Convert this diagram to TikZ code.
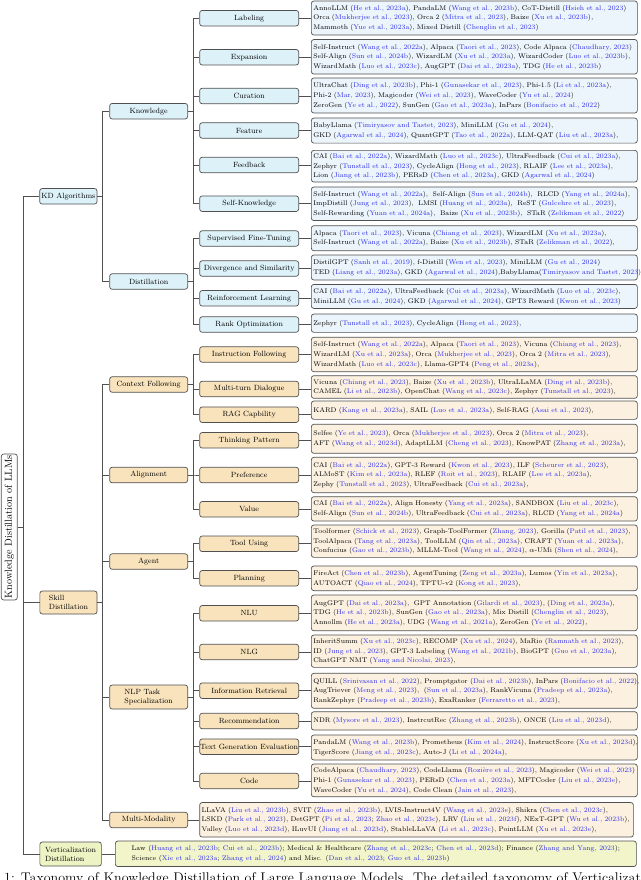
\documentclass[tikz,border=0pt]{standalone}
\usepackage{fontspec}
\usepackage{graphicx}
\definecolor{bordc}{RGB}{80,80,80}
\definecolor{citec}{RGB}{45,45,235}
\definecolor{kfill}{RGB}{221,241,249}
\definecolor{kleaf}{RGB}{236,245,251}
\definecolor{sfill}{RGB}{248,227,188}
\definecolor{sleaf}{RGB}{252,241,224}
\definecolor{vfill}{RGB}{238,243,196}
\definecolor{vleaf}{RGB}{242,245,202}
\newcommand\rf[1]{\textcolor{citec}{#1}}
\newcommand\leaffont{\fontsize{6.8}{9.7}\selectfont}
\newcommand\nodefont{\fontsize{7.55}{9}\selectfont}
\newcommand\lns[1]{\begin{tabular}{@{}l@{}}#1\end{tabular}}
\tikzset{
  box/.style={draw=bordc, line width=0.7pt, rounded corners=2.5pt, inner sep=0pt, align=center, font=\nodefont},
  conn/.style={draw=bordc, line width=0.7pt},
  rootbox/.style={box, fill=white, minimum width=16pt, minimum height=146pt},
  lonek/.style={box, fill=kfill, anchor=west, minimum width=57.4pt, minimum height=15.5pt},
  lones/.style={box, fill=sfill, anchor=west, minimum width=57.2pt, minimum height=23pt, align=left},
  lonev/.style={box, fill=vfill, anchor=west, minimum width=61.5pt, minimum height=24pt, align=left},
  ltwok/.style={box, fill=kfill, anchor=west, minimum width=78pt, minimum height=15.5pt},
  ltwos/.style={box, fill=sfill, anchor=west, minimum width=78pt, minimum height=15.5pt},
  lthreek/.style={box, fill=kfill, anchor=west, minimum width=99pt, minimum height=15.5pt},
  lthrees/.style={box, fill=sfill, anchor=west, minimum width=99pt, minimum height=15.5pt},
  leafk/.style={box, fill=kleaf, anchor=west, text width=322pt, inner xsep=2pt, align=left, font=\leaffont, minimum height=#1},
  leafs/.style={box, fill=sleaf, anchor=west, text width=322pt, inner xsep=2pt, align=left, font=\leaffont, minimum height=#1},
}
\begin{document}
\begin{tikzpicture}[x=1pt,y=-1pt]
\fill[white] (0,0) rectangle (640,880);
\useasboundingbox (0,0) rectangle (640,880);

% root and level 1
\node[rootbox] (root) at (9.3,527) {\rotatebox{90}{\fontsize{10.2}{12}\selectfont Knowledge Distillation of LLMs}};
\node[lonek] (kd) at (39.3,196.3) {KD Algorithms};
\node[lones] (skill) at (39.5,602.5) {Skill\\Distillation};
\node[lonev] (vert) at (39.5,854) {Verticalization\\Distillation};

% level 2
\node[ltwok] (know) at (109.3,111.2) {Knowledge};
\node[ltwok] (dist) at (109.3,281.5) {Distillation};
\node[ltwos] (ctx) at (109.3,384.5) {Context Following};
\node[ltwos] (align) at (109.3,475) {Alignment};
\node[ltwos] (agent) at (109.3,561.5) {Agent};
\node[ltwos, minimum height=24pt, align=left] (nlp) at (109.3,697) {NLP Task\\Specialization};
\node[ltwos] (mm) at (109.3,820) {Multi-Modality};

% level 3 knowledge
\node[lthreek] (lab) at (199.3,18.2) {Labeling};
\node[lthreek] (exp) at (199.3,57.2) {Expansion};
\node[lthreek] (cur) at (199.3,96) {Curation};
\node[lthreek] (fea) at (199.3,130.5) {Feature};
\node[lthreek] (fb) at (199.3,165) {Feedback};
\node[lthreek] (sk) at (199.3,203.7) {Self-Knowledge};
\node[lthreek] (sft) at (199.3,238.5) {Supervised Fine-Tuning};
\node[lthreek] (div) at (199.3,268.5) {Divergence and Similarity};
\node[lthreek] (rl) at (199.3,298.3) {Reinforcement Learning};
\node[lthreek] (rank) at (199.3,324.5) {Rank Optimization};

% level 3 skill
\node[lthrees] (inf) at (199.3,354.5) {Instruction Following};
\node[lthrees] (mtd) at (199.3,389) {Multi-turn Dialogue};
\node[lthrees] (rag) at (199.3,414.7) {RAG Capbility};
\node[lthrees] (tp) at (199.3,440.3) {Thinking Pattern};
\node[lthrees] (pref) at (199.3,475) {Preference};
\node[lthrees] (val) at (199.3,509.3) {Value};
\node[lthrees] (tool) at (199.3,543.8) {Tool Using};
\node[lthrees] (plan) at (199.3,578.3) {Planning};
\node[lthrees] (nlu) at (199.3,613.3) {NLU};
\node[lthrees] (nlg) at (199.3,652) {NLG};
\node[lthrees] (ir) at (199.3,690.7) {Information Retrieval};
\node[lthrees] (rec) at (199.3,721) {Recommendation};
\node[lthrees] (tge) at (199.3,746.7) {Text Generation Evaluation};
\node[lthrees] (code) at (199.3,781) {Code};

% leaves knowledge
\node[leafk=34pt] (lLab) at (311,18) {\lns{AnnoLLM (\rf{He et al., 2023a}), PandaLM (\rf{Wang et al., 2023b}), CoT-Distill (\rf{Hsieh et al., 2023})\\
Orca (\rf{Mukherjee et al., 2023}), Orca 2 (\rf{Mitra et al., 2023}), Baize (\rf{Xu et al., 2023b}),\\
Mammoth (\rf{Yue et al., 2023a}), Mixed Distill (\rf{Chenglin et al., 2023})}};
\node[leafk=34.5pt] (lExp) at (311,56.8) {\lns{Self-Instruct (\rf{Wang et al., 2022a}), Alpaca (\rf{Taori et al., 2023}), Code Alpaca (\rf{Chaudhary, 2023})\\
Self-Align (\rf{Sun et al., 2024b}), WizardLM (\rf{Xu et al., 2023a}), WizardCoder (\rf{Luo et al., 2023b}),\\
WizardMath (\rf{Luo et al., 2023c}), AugGPT (\rf{Dai et al., 2023a}), TDG (\rf{He et al., 2023b})}};
\node[leafk=35pt] (lCur) at (311,95.5) {\lns{UltraChat (\rf{Ding et al., 2023b}), Phi-1 (\rf{Gunasekar et al., 2023}), Phi-1.5 (\rf{Li et al., 2023a}),\\
Phi-2 (\rf{Mar, 2023}), Magicoder (\rf{Wei et al., 2023}), WaveCoder (\rf{Yu et al., 2024})\\
ZeroGen (\rf{Ye et al., 2022}), SunGen (\rf{Gao et al., 2023a}), InPars (\rf{Bonifacio et al., 2022})}};
\node[leafk=25pt] (lFea) at (311,130.6) {\lns{BabyLlama (\rf{Timiryasov and Tastet, 2023}), MiniLLM (\rf{Gu et al., 2024}),\\
GKD (\rf{Agarwal et al., 2024}), QuantGPT (\rf{Tao et al., 2022a}), LLM-QAT (\rf{Liu et al., 2023a}),}};
\node[leafk=31.7pt] (lFb) at (311,166.2) {\lns{CAI (\rf{Bai et al., 2022a}), WizardMath (\rf{Luo et al., 2023c}), UltraFeedback (\rf{Cui et al., 2023a}),\\
Zephyr (\rf{Tunstall et al., 2023}), CycleAlign (\rf{Hong et al., 2023}), RLAIF (\rf{Lee et al., 2023a}),\\
Lion (\rf{Jiang et al., 2023b}), PERsD (\rf{Chen et al., 2023a}), GKD (\rf{Agarwal et al., 2024})}};
\node[leafk=33.5pt] (lSk) at (311,203.8) {\lns{Self-Instruct (\rf{Wang et al., 2022a}),\ \ Self-Align (\rf{Sun et al., 2024b}),\ \ RLCD (\rf{Yang et al., 2024a}),\\
ImpDistill (\rf{Jung et al., 2023}),\ \ LMSI (\rf{Huang et al., 2023a}),\ \ ReST (\rf{Gulcehre et al., 2023}),\\
Self-Rewarding (\rf{Yuan et al., 2024a}),\ \ Baize (\rf{Xu et al., 2023b}),\ \ STaR (\rf{Zelikman et al., 2022})}};
\node[leafk=25pt] (lSft) at (311,238.2) {\lns{Alpaca (\rf{Taori et al., 2023}), Vicuna (\rf{Chiang et al., 2023}), WizardLM (\rf{Xu et al., 2023a}),\\
Self-Instruct (\rf{Wang et al., 2022a}), Baize (\rf{Xu et al., 2023b}), STaR (\rf{Zelikman et al., 2022}),}};
\node[leafk=25pt] (lDiv) at (311,267.5) {\lns{DistilGPT (\rf{Sanh et al., 2019}), f-Distill (\rf{Wen et al., 2023}), MiniLLM (\rf{Gu et al., 2024})\\
TED (\rf{Liang et al., 2023a}), GKD (\rf{Agarwal et al., 2024}),BabyLlama(\rf{Timiryasov and Tastet, 2023})}};
\node[leafk=24pt] (lRl) at (311,296.4) {\lns{CAI (\rf{Bai et al., 2022a}), UltraFeedback (\rf{Cui et al., 2023a}), WizardMath (\rf{Luo et al., 2023c}),\\
MiniLLM (\rf{Gu et al., 2024}), GKD (\rf{Agarwal et al., 2024}), GPT3 Reward (\rf{Kwon et al., 2023})}};
\node[leafk=18.3pt] (lRank) at (311,323.2) {\lns{Zephyr (\rf{Tunstall et al., 2023}), CycleAlign (\rf{Hong et al., 2023}),}};

% leaves skill
\node[leafs=34.4pt] (lInf) at (311,354.5) {\lns{Self-Instruct (\rf{Wang et al., 2022a}), Alpaca (\rf{Taori et al., 2023}), Vicuna (\rf{Chiang et al., 2023}),\\
WizardLM (\rf{Xu et al., 2023a}), Orca (\rf{Mukherjee et al., 2023}), Orca 2 (\rf{Mitra et al., 2023}),\\
WizardMath (\rf{Luo et al., 2023c}), Llama-GPT4 (\rf{Peng et al., 2023a}),}};
\node[leafs=22.6pt] (lMtd) at (311,387) {\lns{Vicuna (\rf{Chiang et al., 2023}), Baize (\rf{Xu et al., 2023b}), UltraLLaMA (\rf{Ding et al., 2023b}),\\
CAMEL (\rf{Li et al., 2023b}), OpenChat (\rf{Wang et al., 2023c}), Zephyr (\rf{Tunstall et al., 2023}),}};
\node[leafs=18.3pt] (lRag) at (311,410.2) {\lns{KARD (\rf{Kang et al., 2023a}), SAIL (\rf{Luo et al., 2023a}), Self-RAG (\rf{Asai et al., 2023}),}};
\node[leafs=29pt] (lTp) at (311,438.8) {\lns{Selfee (\rf{Ye et al., 2023}), Orca (\rf{Mukherjee et al., 2023}), Orca 2 (\rf{Mitra et al., 2023}),\\
AFT (\rf{Wang et al., 2023d}), AdaptLLM (\rf{Cheng et al., 2023}), KnowPAT (\rf{Zhang et al., 2023a}),}};
\node[leafs=35.4pt] (lPref) at (311,475) {\lns{CAI (\rf{Bai et al., 2022a}), GPT-3 Reward (\rf{Kwon et al., 2023}), ILF (\rf{Scheurer et al., 2023}),\\
ALMoST (\rf{Kim et al., 2023a}), RLEF (\rf{Roit et al., 2023}), RLAIF (\rf{Lee et al., 2023a}),\\
Zephy (\rf{Tunstall et al., 2023}), UltraFeedback (\rf{Cui et al., 2023a}),}};
\node[leafs=24.3pt] (lVal) at (311,508.9) {\lns{CAI (\rf{Bai et al., 2022a}), Align Honesty (\rf{Yang et al., 2023a}), SANDBOX (\rf{Liu et al., 2023c}),\\
Self-Align (\rf{Sun et al., 2024b}), UltraFeedback (\rf{Cui et al., 2023a}), RLCD (\rf{Yang et al., 2024a})}};
\node[leafs=32.3pt] (lTool) at (311,541.2) {\lns{Toolformer (\rf{Schick et al., 2023}), Graph-ToolFormer (\rf{Zhang, 2023}), Gorilla (\rf{Patil et al., 2023}),\\
ToolAlpaca (\rf{Tang et al., 2023a}), ToolLLM (\rf{Qin et al., 2023a}), CRAFT (\rf{Yuan et al., 2023a}),\\
Confucius (\rf{Gao et al., 2023b}), MLLM-Tool (\rf{Wang et al., 2024}), $\alpha$-UMi (\rf{Shen et al., 2024}),}};
\node[leafs=24.7pt] (lPlan) at (311,578.3) {\lns{FireAct (\rf{Chen et al., 2023b}), AgentTuning (\rf{Zeng et al., 2023a}), Lumos (\rf{Yin et al., 2023a}),\\
AUTOACT (\rf{Qiao et al., 2024}), TPTU-v2 (\rf{Kong et al., 2023}),}};
\node[leafs=35.7pt] (lNlu) at (311,612.9) {\lns{AugGPT (\rf{Dai et al., 2023a}),\ \ GPT Annotation (\rf{Gilardi et al., 2023}), (\rf{Ding et al., 2023a}),\\
TDG (\rf{He et al., 2023b}), SunGen (\rf{Gao et al., 2023a}), Mix Distill (\rf{Chenglin et al., 2023}),\\
Annollm (\rf{He et al., 2023a}), UDG (\rf{Wang et al., 2021a}), ZeroGen (\rf{Ye et al., 2022}),}};
\node[leafs=32.3pt] (lNlg) at (311,651.2) {\lns{InheritSumm (\rf{Xu et al., 2023c}), RECOMP (\rf{Xu et al., 2024}), MaRio (\rf{Ramnath et al., 2023}),\\
ID (\rf{Jung et al., 2023}), GPT-3 Labeling (\rf{Wang et al., 2021b}), BioGPT (\rf{Guo et al., 2023a}),\\
ChatGPT NMT (\rf{Yang and Nicolai, 2023}),}};
\node[leafs=35pt] (lIr) at (311,690.8) {\lns{QUILL (\rf{Srinivasan et al., 2022}), Promptgator (\rf{Dai et al., 2023b}), InPars (\rf{Bonifacio et al., 2022}),\\
AugTriever (\rf{Meng et al., 2023}),\ \ (\rf{Sun et al., 2023a}), RankVicuna (\rf{Pradeep et al., 2023a}),\\
RankZephyr (\rf{Pradeep et al., 2023b}), ExaRanker (\rf{Ferraretto et al., 2023}),}};
\node[leafs=18.3pt] (lRec) at (311,720.9) {\lns{NDR (\rf{Mysore et al., 2023}), InstrcutRec (\rf{Zhang et al., 2023b}), ONCE (\rf{Liu et al., 2023d}),}};
\node[leafs=25pt] (lTge) at (311,747.5) {\lns{PandaLM (\rf{Wang et al., 2023b}), Prometheus (\rf{Kim et al., 2024}), InstructScore (\rf{Xu et al., 2023d}),\\
TigerScore (\rf{Jiang et al., 2023c}), Auto-J (\rf{Li et al., 2024a}),}};
\node[leafs=32.7pt] (lCode) at (311,780.4) {\lns{CodeAlpaca (\rf{Chaudhary, 2023}), CodeLlama (\rf{Rozière et al., 2023}), Magicoder (\rf{Wei et al., 2023})\\
Phi-1 (\rf{Gunasekar et al., 2023}), PERsD (\rf{Chen et al., 2023a}), MFTCoder (\rf{Liu et al., 2023e}),\\
WaveCoder (\rf{Yu et al., 2024}), Code Clean (\rf{Jain et al., 2023}),}};
\node[leafs=34.5pt, text width=429.7pt] (lMm) at (199.3,819.8) {\lns{LLaVA (\rf{Liu et al., 2023b}), SVIT (\rf{Zhao et al., 2023b}), LVIS-Instruct4V (\rf{Wang et al., 2023e}), Shikra (\rf{Chen et al., 2023c}),\\
LSKD (\rf{Park et al., 2023}), DetGPT (\rf{Pi et al., 2023}; \rf{Zhao et al., 2023c}), LRV (\rf{Liu et al., 2023f}), NExT-GPT (\rf{Wu et al., 2023b}),\\
Valley (\rf{Luo et al., 2023d}), ILuvUI (\rf{Jiang et al., 2023d}), StableLLaVA (\rf{Li et al., 2023c}), PointLLM (\rf{Xu et al., 2023e}),}};
\node[box, fill=vleaf, anchor=west, minimum width=521pt, minimum height=25.5pt, font=\leaffont] (lVert) at (115,853.8) {\lns{Law (\rf{Huang et al., 2023b}; \rf{Cui et al., 2023b}); Medical \& Healthcare (\rf{Zhang et al., 2023c}; \rf{Chen et al., 2023d}); Finance (\rf{Zhang and Yang, 2023});\\
Science (\rf{Xie et al., 2023a}; \rf{Zhang et al., 2024}) and Misc. (\rf{Dan et al., 2023}; \rf{Guo et al., 2023b})}};

% connectors: root and level 1
\foreach \c in {kd,skill,vert} \draw[conn] (root.east) -- ++(5.4,0) |- (\c.west);
\foreach \c in {know,dist} \draw[conn] (kd.east) -- ++(5,0) |- (\c.west);
\foreach \c in {ctx,align,agent,nlp,mm} \draw[conn] (skill.east) -- ++(5,0) |- (\c.west);
\draw[conn] (vert.east) -- (vert.east -| lVert.west);
% level 2 to level 3
\foreach \c in {lab,exp,cur,fea,fb,sk} \draw[conn] (know.east) -- ++(5,0) |- (\c.west);
\foreach \c in {sft,div,rl,rank} \draw[conn] (dist.east) -- ++(5,0) |- (\c.west);
\foreach \c in {inf,mtd,rag} \draw[conn] (ctx.east) -- ++(5,0) |- (\c.west);
\foreach \c in {tp,pref,val} \draw[conn] (align.east) -- ++(5,0) |- (\c.west);
\foreach \c in {tool,plan} \draw[conn] (agent.east) -- ++(5,0) |- (\c.west);
\foreach \c in {nlu,nlg,ir,rec,tge,code} \draw[conn] (nlp.east) -- ++(5,0) |- (\c.west);
\draw[conn] (mm.east) -- (mm.east -| lMm.west);
% level 3 to leaves
\foreach \a/\b in {lab/lLab,exp/lExp,cur/lCur,fea/lFea,fb/lFb,sk/lSk,sft/lSft,div/lDiv,rl/lRl,rank/lRank,inf/lInf,mtd/lMtd,rag/lRag,tp/lTp,pref/lPref,val/lVal,tool/lTool,plan/lPlan,nlu/lNlu,nlg/lNlg,ir/lIr,rec/lRec,tge/lTge,code/lCode}
  \draw[conn] (\a.east) -- (\a.east -| \b.west);

% caption (cut by the lower edge)
\begin{scope}
\clip (0,0) rectangle (640,880);
\node[anchor=north west, inner sep=0pt, font=\fontsize{14}{16}\selectfont] (cap) at (4,872.5) {1: Taxonomy of Knowledge Distillation of Large Language Models. The detailed taxonomy of Verticalization Distillation};
\end{scope}
\end{tikzpicture}
\end{document}
